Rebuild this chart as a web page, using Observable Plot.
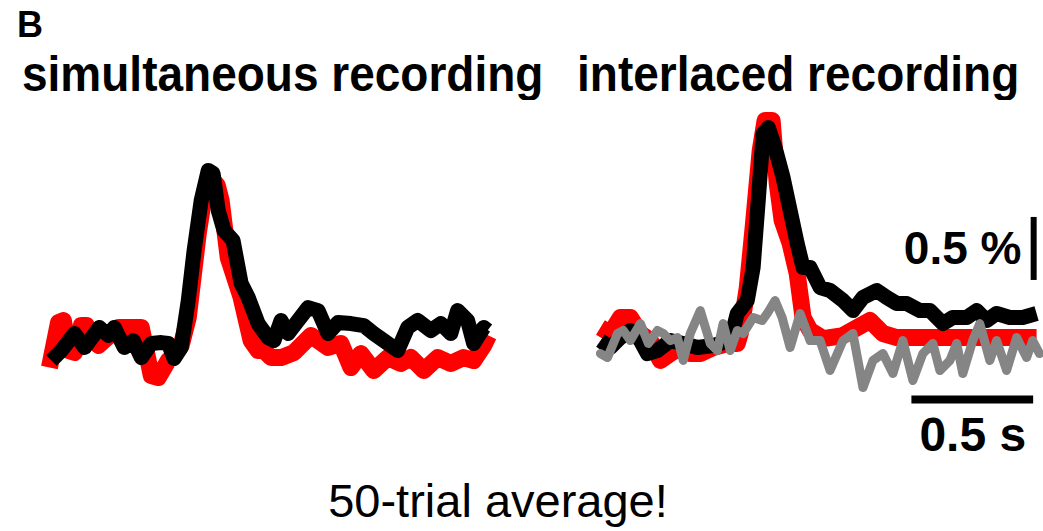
<!DOCTYPE html>
<html>
<head>
<meta charset="utf-8">
<script src="https://cdn.jsdelivr.net/npm/d3@7"></script>
<script src="https://cdn.jsdelivr.net/npm/@observablehq/plot@0.6"></script>
<style>
  html, body { margin: 0; padding: 0; background: #fff; }
  body { width: 1043px; height: 531px; position: relative; overflow: hidden; font-family: "Liberation Sans", Arial, sans-serif; color: #000; }
  .lbl { position: absolute; white-space: nowrap; line-height: 1; }
  #panelLetter { left: 17px; top: 7px; font-size: 36px; font-weight: bold; }
  .title { top: 49px; font-size: 50px; font-weight: bold; transform-origin: 0 0; transform: scaleX(0.92); }
  #t1 { left: 22px; }
  #t2 { left: 577px; }
  #chart { position: absolute; left: 0; top: 100px; }
  #caption { top: 477px; left: 0; width: 996px; text-align: center; font-size: 47px; }
</style>
</head>
<body>
<div class="lbl" id="panelLetter">B</div>
<div class="lbl title" id="t1"></div>
<div class="lbl title" id="t2"></div>
<div id="chart"></div>
<div class="lbl" id="caption"></div>
<script>
// ---------- data (time in s, ΔF/F in %) ----------
const panels = ["simultaneous", "interlaced"];
const panelTitles = ["simultaneous recording", "interlaced recording"];
const caption = "50-trial average!";
const scaleLabels = ["0.5 %", "0.5 s"];
const scaleBarTime = 0.5;   // s
const scaleBarAmp = 0.5;    // %

const simultaneousRed = [
  [0.004,-0.135],[0.041,0.222],[0.061,0.238],[0.082,0.000],[0.107,-0.016],[0.135,0.198],[0.156,0.198],
  [0.205,0.040],[0.287,0.183],[0.381,0.183],[0.422,-0.198],[0.451,-0.214],[0.492,-0.079],[0.516,-0.040],
  [0.545,0.040],[0.574,0.262],[0.615,0.929],[0.639,1.230],[0.668,1.365],[0.693,1.310],[0.709,1.190],
  [0.738,0.738],[0.791,0.421],[0.832,0.079],[0.861,0.000],[0.885,0.000],[0.914,-0.056],[0.955,-0.056],
  [1.008,-0.016],[1.078,0.119],[1.148,0.024],[1.201,0.056],[1.242,-0.135],[1.283,-0.024],[1.336,-0.159],
  [1.393,-0.056],[1.447,-0.103],[1.488,-0.056],[1.541,-0.159],[1.598,-0.056],[1.652,-0.103],[1.705,-0.056],
  [1.746,-0.079],[1.787,0.040],[1.807,0.119]
];
const simultaneousBlack = [
  [0.012,-0.079],[0.053,0.000],[0.107,0.135],[0.148,0.024],[0.209,0.183],[0.246,0.119],[0.270,0.183],
  [0.311,0.024],[0.348,0.079],[0.381,-0.056],[0.422,0.056],[0.463,0.063],[0.492,0.056],[0.516,-0.063],
  [0.545,0.024],[0.574,0.397],[0.598,0.794],[0.627,1.190],[0.656,1.429],[0.676,1.405],[0.697,1.111],
  [0.721,0.952],[0.758,0.873],[0.791,0.532],[0.820,0.421],[0.861,0.214],[0.902,0.103],[0.926,0.079],
  [0.955,0.238],[0.984,0.135],[1.025,0.238],[1.066,0.341],[1.107,0.317],[1.148,0.135],[1.189,0.222],
  [1.242,0.214],[1.295,0.198],[1.336,0.135],[1.377,0.079],[1.434,0.000],[1.475,0.183],[1.516,0.238],
  [1.570,0.159],[1.611,0.214],[1.652,0.135],[1.680,0.317],[1.721,0.238],[1.746,0.056],[1.787,0.183],
  [1.803,0.159]
];
const interlacedRed = [
  [0.008,0.183],[0.049,0.135],[0.090,0.262],[0.131,0.262],[0.172,0.135],[0.213,0.079],[0.254,-0.079],
  [0.295,-0.024],[0.336,0.024],[0.377,-0.024],[0.418,-0.024],[0.471,0.024],[0.529,0.056],[0.570,0.056],
  [0.582,0.135],[0.611,0.500],[0.635,0.976],[0.664,1.587],[0.684,1.825],[0.713,1.825],[0.734,1.325],
  [0.754,1.032],[0.787,0.849],[0.816,0.611],[0.840,0.262],[0.869,0.159],[0.922,0.095],[1.004,0.119],
  [1.115,0.238],[1.168,0.135],[1.225,0.103],[1.279,0.103],[1.414,0.103],[1.553,0.103],[1.689,0.103],
  [1.799,0.103]
];
const interlacedBlack = [
  [0.008,0.079],[0.049,0.024],[0.090,0.103],[0.131,0.159],[0.172,0.079],[0.201,-0.024],[0.242,0.000],
  [0.295,0.079],[0.348,0.056],[0.406,0.024],[0.471,0.040],[0.541,0.079],[0.570,0.294],[0.611,0.397],
  [0.635,0.659],[0.656,1.190],[0.676,1.722],[0.697,1.770],[0.725,1.611],[0.758,1.373],[0.787,1.111],
  [0.816,0.849],[0.840,0.659],[0.869,0.659],[0.910,0.500],[0.951,0.476],[1.004,0.397],[1.045,0.317],
  [1.086,0.421],[1.143,0.476],[1.184,0.421],[1.225,0.373],[1.266,0.373],[1.320,0.317],[1.361,0.317],
  [1.414,0.214],[1.455,0.262],[1.512,0.262],[1.553,0.317],[1.594,0.238],[1.635,0.294],[1.689,0.262],
  [1.742,0.262],[1.799,0.294]
];
const interlacedGray = [
  [0.008,-0.024],[0.037,-0.056],[0.078,0.135],[0.102,0.159],[0.131,0.079],[0.172,0.214],[0.205,0.056],
  [0.242,0.159],[0.266,0.135],[0.295,0.079],[0.324,0.103],[0.348,-0.079],[0.377,0.135],[0.418,0.317],
  [0.459,0.056],[0.488,0.000],[0.512,0.214],[0.541,0.000],[0.570,0.159],[0.594,0.135],[0.635,0.262],
  [0.672,0.238],[0.693,0.294],[0.725,0.397],[0.754,0.262],[0.787,0.024],[0.828,0.294],[0.869,0.079],
  [0.910,0.079],[0.951,-0.159],[1.004,0.079],[1.045,0.135],[1.086,-0.294],[1.127,-0.079],[1.168,-0.024],
  [1.209,-0.183],[1.250,0.079],[1.291,-0.238],[1.332,-0.024],[1.373,0.056],[1.402,-0.159],[1.443,-0.079],
  [1.471,0.056],[1.496,-0.183],[1.537,0.079],[1.566,0.214],[1.607,-0.079],[1.635,0.079],[1.676,-0.159],
  [1.717,0.103],[1.758,-0.056],[1.783,0.079],[1.811,-0.024]
];

// ---------- build table ----------
function rows(arr, panel, series) {
  return arr.map(([t, y]) => ({panel, series, t, y}));
}
const red = [...rows(simultaneousRed, panels[0], "red"), ...rows(interlacedRed, panels[1], "red")];
const black = [...rows(simultaneousBlack, panels[0], "black"), ...rows(interlacedBlack, panels[1], "black")];
const gray = rows(interlacedGray, panels[1], "gray");

// scale-bar anchor (right end / bottom of bars), in data units
const barT = 1.787, barAmpBase = 0.556, barTimeY = -0.389;

const font = '"Liberation Sans", Arial, sans-serif';

const chart = Plot.plot({
  width: 1043,
  height: 370,
  marginLeft: 47,
  marginRight: 3,
  marginTop: 0,
  marginBottom: 0,
  style: {background: "#fff", overflow: "visible", fontFamily: font},
  fx: {domain: panels, axis: null, paddingInner: 0.1978, paddingOuter: 0},
  x: {domain: [0, 1.811], axis: null},
  y: {domain: [-0.952, 1.984], axis: null},
  marks: [
    Plot.line(red, {x: "t", y: "y", z: "panel", fx: "panel", stroke: "#f00", strokeWidth: 17, strokeLinejoin: "round", strokeLinecap: "butt"}),
    Plot.line(black, {x: "t", y: "y", z: "panel", fx: "panel", stroke: "#000", strokeWidth: 15, strokeLinejoin: "round", strokeLinecap: "butt"}),
    Plot.line(gray, {x: "t", y: "y", fx: "panel", stroke: "#858585", strokeWidth: 9, strokeLinejoin: "round", strokeLinecap: "round"}),
    Plot.ruleX([{panel: panels[1], x: barT, y1: barAmpBase, y2: barAmpBase + scaleBarAmp}], {x: "x", y1: "y1", y2: "y2", fx: "panel", stroke: "#000", strokeWidth: 6}),
    Plot.ruleY([{panel: panels[1], y: barTimeY, x1: barT - scaleBarTime, x2: barT}], {y: "y", x1: "x1", x2: "x2", fx: "panel", stroke: "#000", strokeWidth: 8}),
    Plot.text([{panel: panels[1], t: barT - 0.05, y: barAmpBase + scaleBarAmp / 2, label: scaleLabels[0]}], {x: "t", y: "y", text: "label", fx: "panel", textAnchor: "end", lineAnchor: "middle", fontSize: 46, fontWeight: "bold", fill: "#000"}),
    Plot.text([{panel: panels[1], t: barT - scaleBarTime / 2, y: barTimeY - 0.29, label: scaleLabels[1]}], {x: "t", y: "y", text: "label", fx: "panel", textAnchor: "middle", lineAnchor: "middle", fontSize: 48, fontWeight: "bold", fill: "#000"})
  ]
});
document.getElementById("chart").appendChild(chart);
document.getElementById("t1").textContent = panelTitles[0];
document.getElementById("t2").textContent = panelTitles[1];
document.getElementById("caption").textContent = caption;
</script>
</body>
</html>
